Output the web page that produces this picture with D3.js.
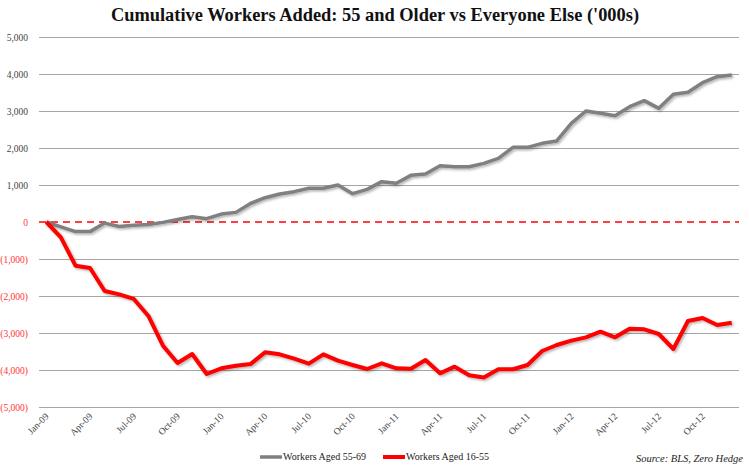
<!DOCTYPE html>
<html><head><meta charset="utf-8">
<script src="https://cdn.jsdelivr.net/npm/d3@7"></script>
<style>
body{margin:0;background:#fff;}
svg{display:block;}
</style></head>
<body>
<svg id="chart" width="749" height="471"></svg>
<script>
const monthNames = ["Jan","Feb","Mar","Apr","May","Jun","Jul","Aug","Sep","Oct","Nov","Dec"];
const years = ["09","10","11","12"];
const months = [];
years.forEach(yr => monthNames.forEach(m => months.push(m + "-" + yr)));
const tickLabels = months.filter((d, i) => i % 3 === 0);
const older = [0,-130,-260,-260,-30,-120,-90,-70,-10,70,140,90,215,260,500,657,757,820,910,910,1000,766,883,1090,1045,1261,1297,1522,1495,1495,1585,1720,2018,2018,2126,2190,2667,3000,2937,2873,3117,3280,3072,3450,3505,3765,3928,3973];
const younger = [0,-415,-1180,-1243,-1865,-1955,-2080,-2540,-3343,-3810,-3568,-4108,-3955,-3883,-3840,-3523,-3577,-3694,-3829,-3577,-3748,-3865,-3973,-3820,-3955,-3964,-3730,-4090,-3910,-4144,-4200,-3980,-3980,-3865,-3486,-3324,-3207,-3117,-2964,-3117,-2883,-2901,-3027,-3432,-2676,-2595,-2784,-2721];
const yTicks = [5000,4000,3000,2000,1000,0,-1000,-2000,-3000,-4000,-5000];
const seriesNames = ["Workers Aged 55-69","Workers Aged 16-55"];

const svg = d3.select("#chart");
const font = "'Liberation Serif','DejaVu Serif',serif";
const mLeft = 39, mRight = 739, mTop = 37, mBottom = 407;

const x = d3.scaleBand().domain(months).range([mLeft, mRight]).padding(0);
const xc = d => x(d) + x.bandwidth() / 2;
const y = d3.scaleLinear().domain([-5000, 5000]).range([mBottom, mTop]);

const defs = svg.append("defs");
const f = defs.append("filter").attr("id","shadow").attr("x","-10%").attr("y","-10%").attr("width","120%").attr("height","130%");
f.append("feDropShadow").attr("dx",1.5).attr("dy",1.5).attr("stdDeviation",1.2).attr("flood-color","#000").attr("flood-opacity",0.3);

// title
svg.append("text").attr("x", 375).attr("y", 21).attr("text-anchor","middle")
  .attr("font-family", font).attr("font-weight","bold").attr("font-size", 18.4).attr("fill","#111")
  .text("Cumulative Workers Added: 55 and Older vs Everyone Else ('000s)");

// gridlines
const yAxis = d3.axisLeft(y).tickValues(yTicks).tickSize(-(mRight-mLeft)).tickPadding(11)
  .tickFormat(d => d < 0 ? "(" + d3.format(",")(-d) + ")" : d3.format(",")(d));
const gy = svg.append("g").attr("transform", `translate(${mLeft},0)`).call(yAxis);
gy.select(".domain").remove();
gy.selectAll(".tick line").attr("stroke","#a6a6a6").attr("stroke-width",1.2)
  .attr("opacity", d => d === 0 ? 0 : 1);
gy.selectAll(".tick text").attr("font-family", font).attr("font-size", 9.5)
  .attr("fill", d => d <= 0 ? "#ff3333" : "#444");

// zero dashed line
svg.append("line").attr("x1", mLeft).attr("x2", mRight).attr("y1", y(0)).attr("y2", y(0))
  .attr("stroke","#ff0000").attr("stroke-width",1.6).attr("stroke-dasharray","7,5");

// x labels
const xAxis = d3.axisBottom(x).tickValues(tickLabels).tickSize(0).tickPadding(0);
const gx = svg.append("g").attr("transform", `translate(0,${mBottom})`).call(xAxis);
gx.select(".domain").remove();
gx.selectAll(".tick text").attr("font-family", font).attr("font-size", 9.5).attr("fill","#444")
  .attr("text-anchor","end").attr("dy", 0)
  .attr("transform","translate(3,10) rotate(-45)");

// lines
const line = d3.line().x((d, i) => xc(months[i])).y(d => y(d));
svg.append("path").datum(older).attr("d", line).attr("fill","none")
  .attr("stroke","#808080").attr("stroke-width",3.5).attr("stroke-linejoin","round").attr("filter","url(#shadow)");
svg.append("path").datum(younger).attr("d", line).attr("fill","none")
  .attr("stroke","#ff0000").attr("stroke-width",4).attr("stroke-linejoin","round").attr("filter","url(#shadow)");

// legend
const legend = [{name: seriesNames[0], color:"#808080", w:3.5, x:260},{name: seriesNames[1], color:"#ff0000", w:4, x:383}];
legend.forEach(l => {
  svg.append("line").attr("x1", l.x).attr("x2", l.x + 22).attr("y1", 457).attr("y2", 457)
    .attr("stroke", l.color).attr("stroke-width", l.w);
  svg.append("text").attr("x", l.x + 23).attr("y", 460).attr("font-family", font).attr("font-size", 10)
    .attr("fill","#222").text(l.name);
});

// source
svg.append("text").attr("x", 743).attr("y", 462).attr("text-anchor","end").attr("font-family", font)
  .attr("font-style","italic").attr("font-size", 10.5).attr("fill","#222").text("Source: BLS, Zero Hedge");
</script>
</body></html>
